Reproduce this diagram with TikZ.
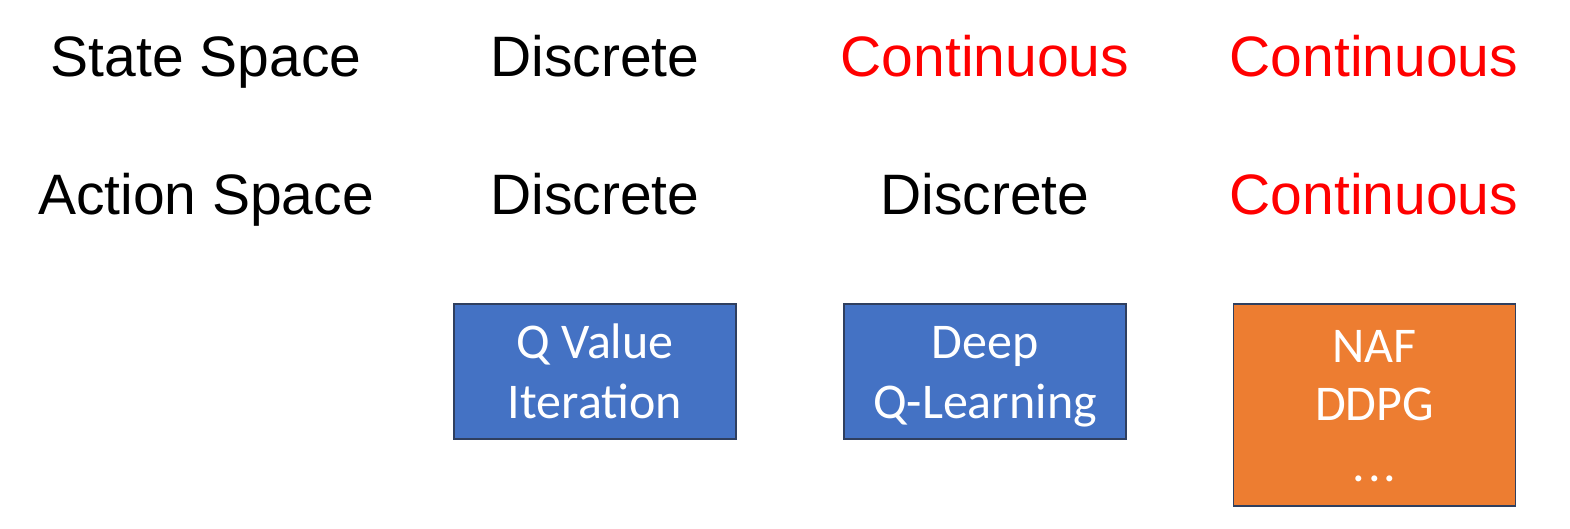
\documentclass[tikz,border=0pt]{standalone}
\usepackage{fontspec}
\setmainfont{Liberation Sans}
\newfontfamily\boxfont{Carlito}
\usepackage{xcolor}
\usetikzlibrary{positioning}

\definecolor{qblue}{HTML}{4472C4}
\definecolor{naforange}{HTML}{ED7D31}
\definecolor{boxline}{HTML}{2F3F5F}
\newcommand{\tallstrut}{\rule{0pt}{26pt}}

\begin{document}
\begin{tikzpicture}[x=0.5pt, y=-0.5pt,
    head/.style={anchor=base, inner sep=0pt, font=\fontsize{28.5}{34}\selectfont},
    cont/.style={head, text=red},
    algo/.style={draw=boxline, line width=0.8pt, text=white, align=center,
        minimum width=141pt, minimum height=67.5pt, inner sep=0pt,
        font=\boxfont\fontsize{25}{30}\selectfont}]
    \useasboundingbox (0,0) rectangle (1570,529);

    % state space row
    \node[head] (state) at (206,77) {State Space};
    \node[head] (s1) at (595,77) {Discrete};
    \node[cont] (s2) at (985,77) {Continuous};
    \node[cont] (s3) at (1374,77) {Continuous};

    % action space row
    \node[head] (action) at (206,215) {Action Space};
    \node[head] (a1) at (595,215) {Discrete};
    \node[head] (a2) at (985,215) {Discrete};
    \node[cont] (a3) at (1374,215) {Continuous};

    % algorithms
    \node[algo, fill=qblue] (qvi) at (595,371.5) {\tallstrut Q Value\\Iteration\strut};
    \node[algo, fill=qblue] (dqn) at (985,371.5) {\tallstrut Deep\\Q-Learning\strut};
    \node[algo, fill=naforange, minimum height=101pt] (naf) at (1374.5,405)
        {\tallstrut NAF\\[-1pt]DDPG\\[0.5pt]{.\kern1.5pt.\kern1.5pt.}\strut};
\end{tikzpicture}
\end{document}
